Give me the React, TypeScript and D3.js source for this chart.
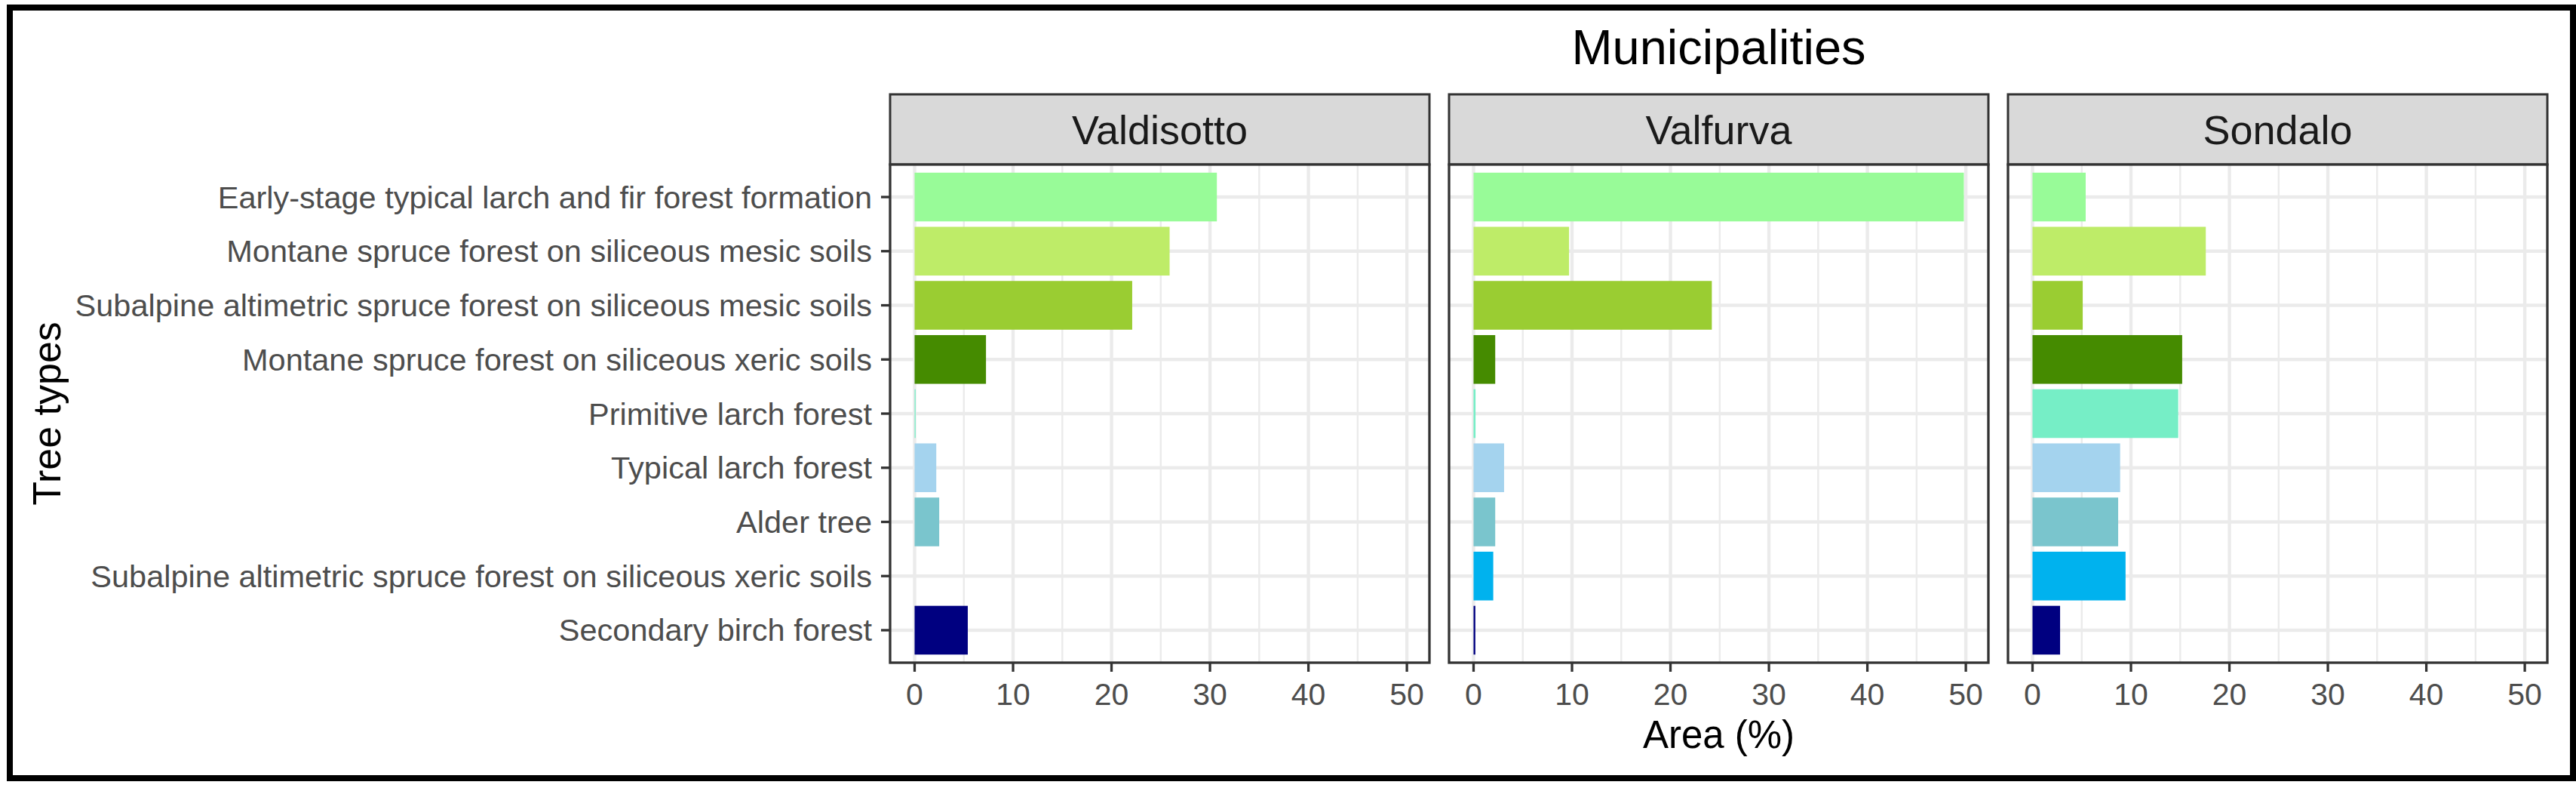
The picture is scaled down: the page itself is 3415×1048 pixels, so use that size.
import React from "react";
import * as d3 from "d3";

const treeTypes = [
  "Early-stage typical larch and fir forest formation",
  "Montane spruce forest on siliceous mesic soils",
  "Subalpine altimetric spruce forest on siliceous mesic soils",
  "Montane spruce forest on siliceous xeric soils",
  "Primitive larch forest",
  "Typical larch forest",
  "Alder tree",
  "Subalpine altimetric spruce forest on siliceous xeric soils",
  "Secondary birch forest",
];

const typeColors = [
  "#98FB98",
  "#BEEC68",
  "#9ACD32",
  "#458B00",
  "#76EEC6",
  "#A4D3EE",
  "#7AC5CD",
  "#00B2EE",
  "#000080",
];

const municipalities = ["Valdisotto", "Valfurva", "Sondalo"];

// area share (%) of each tree type, same order as treeTypes
const valdisotto = [30.7, 25.9, 22.1, 7.25, 0.1, 2.2, 2.5, 0, 5.4];
const valfurva = [49.8, 9.7, 24.2, 2.2, 0.2, 3.1, 2.2, 2.0, 0.18];
const sondalo = [5.4, 17.6, 5.1, 15.2, 14.8, 8.9, 8.7, 9.45, 2.8];

const areaByMunicipality = [valdisotto, valfurva, sondalo];

const xTicks = [0, 10, 20, 30, 40, 50];
const xMinor = [5, 15, 25, 35, 45];

const W = 3415;
const H = 1048;
const font = "'Liberation Sans', Arial, Helvetica, sans-serif";

const panelLeft = 1180;
const panelW = 715;
const panelGap = 26;
const stripTop = 125;
const panelTop = 218;
const panelBottom = 878;

export default function App() {
  const maxVal = d3.max(areaByMunicipality.flat()) as number;
  const pad = maxVal * 0.05;

  const y = d3
    .scaleBand<string>()
    .domain(treeTypes)
    .range([panelTop, panelBottom])
    .paddingInner(0.1)
    .paddingOuter(0.15);
  const rowCenter = (t: string) => (y(t) as number) + y.bandwidth() / 2;

  const panels = municipalities.map((m, i) => {
    const left = panelLeft + i * (panelW + panelGap);
    const x = d3.scaleLinear().domain([-pad, maxVal + pad]).range([left, left + panelW]);
    return { name: m, left, x, values: areaByMunicipality[i] };
  });

  const centerX = panelLeft + (3 * panelW + 2 * panelGap) / 2;

  return (
    <svg
      width={W}
      height={H}
      style={{ position: "absolute", left: 0, top: 0, background: "#fff" }}
      fontFamily={font}
    >
      <rect x={0} y={0} width={W} height={H} fill="#fff" />
      <rect x={13} y={10} width={3398} height={1021} fill="none" stroke="#000" strokeWidth={8} />

      <text x={centerX} y={85} textAnchor="middle" fontSize={65} fill="#000">
        Municipalities
      </text>

      {panels.map((p) => (
        <g key={p.name}>
          {/* strip */}
          <rect
            x={p.left}
            y={stripTop}
            width={panelW}
            height={panelTop - stripTop}
            fill="#D9D9D9"
            stroke="#333333"
            strokeWidth={3}
          />
          <text x={p.left + panelW / 2} y={191} textAnchor="middle" fontSize={54} fill="#1A1A1A">
            {p.name}
          </text>

          {/* panel */}
          <rect x={p.left} y={panelTop} width={panelW} height={panelBottom - panelTop} fill="#fff" />
          {xMinor.map((t) => (
            <line
              key={"mi" + t}
              x1={p.x(t)}
              x2={p.x(t)}
              y1={panelTop}
              y2={panelBottom}
              stroke="#EBEBEB"
              strokeWidth={2.4}
            />
          ))}
          {xTicks.map((t) => (
            <line
              key={"ma" + t}
              x1={p.x(t)}
              x2={p.x(t)}
              y1={panelTop}
              y2={panelBottom}
              stroke="#EBEBEB"
              strokeWidth={4.4}
            />
          ))}
          {treeTypes.map((t) => (
            <line
              key={"h" + t}
              x1={p.left}
              x2={p.left + panelW}
              y1={rowCenter(t)}
              y2={rowCenter(t)}
              stroke="#EBEBEB"
              strokeWidth={4.4}
            />
          ))}
          {p.values.map((v, j) =>
            v > 0 ? (
              <rect
                key={"b" + j}
                x={p.x(0)}
                y={y(treeTypes[j]) as number}
                width={Math.max(p.x(v) - p.x(0), 0)}
                height={y.bandwidth()}
                fill={typeColors[j]}
              />
            ) : null
          )}
          <rect
            x={p.left}
            y={panelTop}
            width={panelW}
            height={panelBottom - panelTop}
            fill="none"
            stroke="#333333"
            strokeWidth={3.3}
          />

          {/* x axis */}
          {xTicks.map((t) => (
            <g key={"xt" + t}>
              <line x1={p.x(t)} x2={p.x(t)} y1={panelBottom} y2={panelBottom + 12} stroke="#333333" strokeWidth={3.3} />
              <text x={p.x(t)} y={934} textAnchor="middle" fontSize={41} fill="#4D4D4D">
                {t}
              </text>
            </g>
          ))}
        </g>
      ))}

      {/* y axis on the first panel */}
      {treeTypes.map((t) => (
        <g key={"yt" + t}>
          <line x1={panelLeft - 12} x2={panelLeft} y1={rowCenter(t)} y2={rowCenter(t)} stroke="#333333" strokeWidth={3.3} />
          <text x={panelLeft - 24} y={rowCenter(t)} dy="0.35em" textAnchor="end" fontSize={41.5} fill="#4D4D4D">
            {t}
          </text>
        </g>
      ))}

      <text x={centerX} y={991} textAnchor="middle" fontSize={51} fill="#000">
        Area (%)
      </text>
      <text
        transform={`translate(80, ${(panelTop + panelBottom) / 2}) rotate(-90)`}
        textAnchor="middle"
        fontSize={52}
        fill="#000"
      >
        Tree types
      </text>
    </svg>
  );
}
